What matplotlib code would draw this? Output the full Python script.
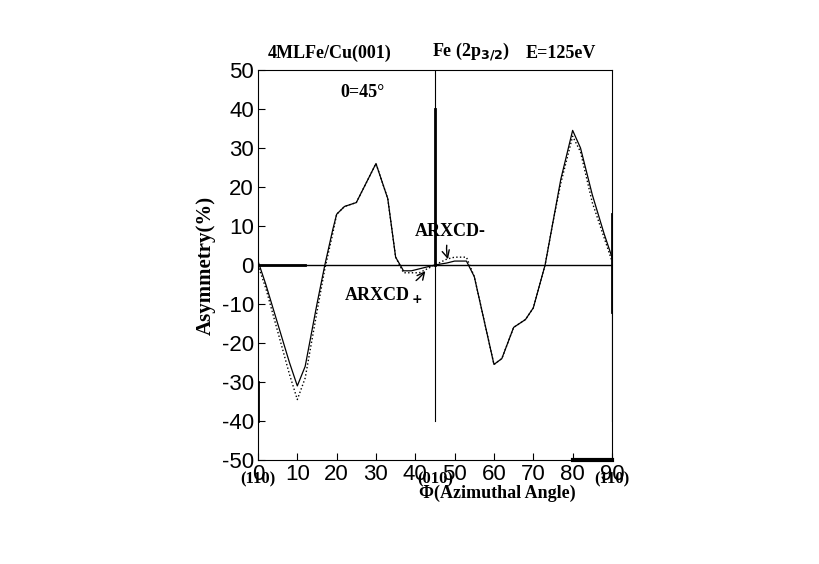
import numpy as np
import matplotlib
matplotlib.use("Agg")
from matplotlib import pyplot as plt

# values
phi_a = [0, 2, 5, 8, 10, 12, 15, 17, 19, 20, 22, 25, 27, 30, 33, 35, 37, 39, 41, 43, 45,
         48, 50, 53, 55, 57, 60, 62, 65, 68, 70, 73, 75, 77, 80, 82, 85, 88, 90]
asym_a = [1, -5, -15, -25, -31, -26, -10, 0, 9, 13, 15, 16, 20, 26, 17, 2, -1.5, -1.5, -1, -0.5, 0,
          0.5, 1, 1, -3, -12, -25.5, -24, -16, -14, -11, 0, 11, 22, 34.5, 30, 18, 8, 2]
phi_b = [0, 2, 5, 8, 10, 12, 15, 17, 19, 20, 22, 25, 27, 30, 33, 35, 37, 39, 41, 43, 45,
         48, 50, 53, 55, 57, 60, 62, 65, 68, 70, 73, 75, 77, 80, 82, 85, 88, 90]
asym_b = [0, -6, -17, -28, -34.5, -29, -12, -1, 8, 13, 15, 16, 20, 26, 17, 2, -2, -2, -2, -1, 0,
          1.5, 2, 2, -3, -12, -25.5, -24, -16, -14, -11, 0, 11, 21, 33, 29, 16, 7, 1]

plt.rcParams["font.family"] = ["Liberation Serif", "DejaVu Serif"]
plt.rcParams["font.weight"] = "bold"
plt.rcParams["axes.labelweight"] = "bold"

fig = plt.figure(figsize=(8.2, 5.64), dpi=100)
ax = fig.add_axes([0.3146, 0.1844, 0.4317, 0.6916])
ax.plot(phi_a, asym_a, "-", color="black", lw=0.9)
ax.plot(phi_b, asym_b, ":", color="black", lw=1.0)
ax.axhline(0, color="black", lw=1)
ax.plot([45, 45], [50, -40], color="black", lw=0.8)
ax.plot([45, 45], [40, 0], color="black", lw=2)
ax.plot([90, 90], [13, -12], color="black", lw=2)
ax.plot([90, 90], [0, -40], color="black", lw=0.8)
ax.plot([0, 0], [-30, -40], color="black", lw=2)
ax.plot([0, 12], [0, 0], color="black", lw=2)
ax.plot([80, 90], [-50, -50], color="black", lw=3, clip_on=False)

ax.set_xlim(0, 90); ax.set_ylim(-50, 50)
ax.set_xticks(range(0, 91, 10)); ax.set_yticks(range(-50, 51, 10))
ax.tick_params(labelsize=16, direction="in", length=5, pad=3)
for lab in ax.get_xticklabels() + ax.get_yticklabels():
    lab.set_fontfamily("Liberation Sans")
    lab.set_fontweight("normal")
ax.set_yticklabels([str(v) for v in range(-50, 51, 10)])
ax.set_ylabel("Asymmetry(%)", fontsize=15, fontweight="bold", labelpad=4)

ax.text(21, 43, "0=45°", fontsize=13)
ax.annotate("ARXCD-", xy=(48.5, 0.8), xytext=(49, 7.5), fontsize=13, ha="center",
            arrowprops=dict(arrowstyle="->", color="black", connectionstyle="arc3,rad=0.2"))
ax.annotate("ARXCD$_+$", xy=(43, -1), xytext=(32, -9), fontsize=13, ha="center",
            arrowprops=dict(arrowstyle="->", color="black", connectionstyle="arc3,rad=0.2"))

for xv, lab in [(0, "(110)"), (45, "(010)"), (90, "(110)")]:
    ax.text(xv, -55, lab, fontsize=12, ha="center", va="center")
ax.text(41, -58.5, "Φ(Azimuthal Angle)", fontsize=13, ha="left", va="center")

ax.text(2.5, 52, "4MLFe/Cu(001)", fontsize=13, va="bottom")
ax.text(44.3, 52, "Fe (2p$_{3/2}$)", fontsize=13, va="bottom")
ax.text(68, 52, "E=125eV", fontsize=13, va="bottom")

fig.savefig("out.png", dpi=100)
